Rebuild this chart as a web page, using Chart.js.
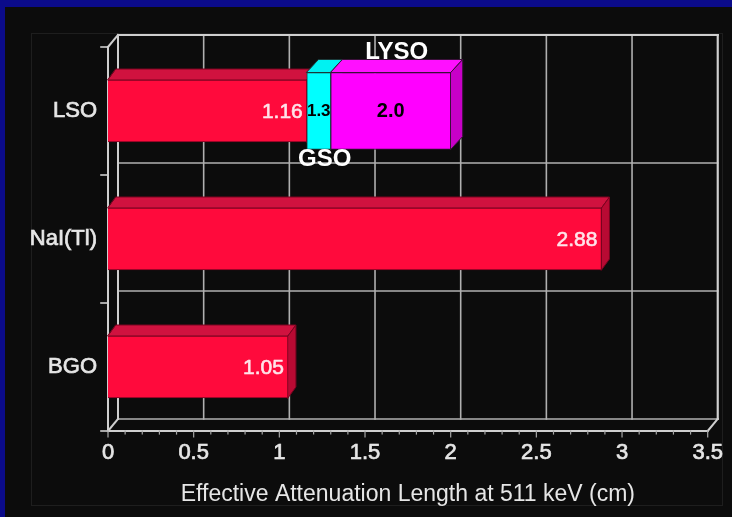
<!DOCTYPE html>
<html>
<head>
<meta charset="utf-8">
<script src="https://cdn.jsdelivr.net/npm/chart.js@4/dist/chart.umd.min.js"></script>
<style>
  html, body { margin: 0; padding: 0; background: #0c0c0c; }
  #wrap { width: 732px; height: 517px; position: relative; }
</style>
</head>
<body>
<div id="wrap"><canvas id="c" width="732" height="517"></canvas></div>
<script>
// Scintillator crystals and their effective attenuation length at 511 keV (cm)
const categories = ['LSO', 'NaI(Tl)', 'BGO'];
const attenuationLengths = [1.16, 2.88, 1.05];
// Extra segments on the LSO row: GSO and LYSO, as [start, end] ranges
const gsoSegment = [1.16, 1.3];
const lysoSegment = [1.3, 2.0];
const segmentNames = ['GSO', 'LYSO'];
const xTicks = [0, 0.5, 1, 1.5, 2, 2.5, 3, 3.5];
const xTitle = 'Effective Attenuation Length at 511 keV (cm)';

const FONT = "'Liberation Sans', Arial, Helvetica, sans-serif";
const WALL = { dx: 10, dy: 12 };            // depth of the back wall
const RED = { front: '#ff0a3c', top: '#d0123f', side: '#b80a33', edge: '#7a0420', depth: { dx: 8, dy: 11 } };
const CYAN = { front: '#00ffff', top: '#00f2f2', side: '#00c8c8', edge: '#1a3a3a', depth: { dx: 12, dy: 13 } };
const MAGENTA = { front: '#ff00ff', top: '#ff10ff', side: '#c800c8', edge: '#3a103a', depth: { dx: 12, dy: 13 } };
const STYLES = [RED, CYAN, MAGENTA];

function poly(ctx, pts, fill, stroke) {
  ctx.beginPath();
  ctx.moveTo(pts[0][0], pts[0][1]);
  for (let i = 1; i < pts.length; i++) ctx.lineTo(pts[i][0], pts[i][1]);
  ctx.closePath();
  ctx.fillStyle = fill;
  ctx.fill();
  if (stroke) { ctx.strokeStyle = stroke; ctx.lineWidth = 1; ctx.stroke(); }
}

function line(ctx, x1, y1, x2, y2) {
  ctx.beginPath();
  ctx.moveTo(x1, y1);
  ctx.lineTo(x2, y2);
  ctx.stroke();
}

// text with a hairline outline in the same colour, for a slightly heavier stroke
function heavyText(ctx, txt, x, y, color, weight) {
  ctx.fillStyle = color;
  ctx.fillText(txt, x, y);
  ctx.strokeStyle = color;
  ctx.lineWidth = weight;
  ctx.strokeText(txt, x, y);
}

function barBox(el) {
  const p = el.getProps(['x', 'y', 'base', 'height'], true);
  return {
    L: Math.min(p.x, p.base), R: Math.max(p.x, p.base),
    T: p.y - p.height / 2, B: p.y + p.height / 2, cy: p.y
  };
}

const frame3d = {
  id: 'frame3d',
  beforeDraw(chart) {
    const ctx = chart.ctx;
    ctx.save();
    ctx.fillStyle = '#0b0b8a';
    ctx.fillRect(0, 0, chart.width, chart.height);
    ctx.fillStyle = '#0c0c0c';
    ctx.fillRect(5, 7, chart.width - 5, chart.height - 7);
    ctx.strokeStyle = '#1e1e1e';
    ctx.lineWidth = 1;
    ctx.strokeRect(31.5, 33.5, 691, 472);
    ctx.restore();
  },
  beforeDatasetsDraw(chart) {
    const ctx = chart.ctx;
    const { left, right, top, bottom } = chart.chartArea;
    const xs = chart.scales.x, ys = chart.scales.y;
    const { dx, dy } = WALL;
    ctx.save();
    ctx.lineCap = 'square';

    // back wall grid: verticals at each tick
    ctx.strokeStyle = '#b0b0b0';
    ctx.lineWidth = 1.6;
    xTicks.forEach(v => {
      const x = xs.getPixelForValue(v) + dx;
      line(ctx, x, top - dy, x, bottom - dy);
    });
    // back wall grid: horizontals at category boundaries
    const bounds = [top];
    for (let i = 1; i < categories.length; i++) {
      bounds.push((ys.getPixelForValue(i - 1) + ys.getPixelForValue(i)) / 2);
    }
    bounds.push(bottom);
    bounds.forEach(y => line(ctx, left + dx, y - dy, right + dx, y - dy));

    // frame edges
    ctx.strokeStyle = '#cfcfcf';
    ctx.lineWidth = 2;
    line(ctx, left, top, left, bottom);                 // front left axis
    line(ctx, left, top, left + dx, top - dy);           // top-left corner
    line(ctx, left, bottom, right, bottom);              // front floor edge
    line(ctx, left, bottom, left + dx, bottom - dy);     // floor left
    line(ctx, right, bottom, right + dx, bottom - dy);   // floor right
    line(ctx, left + dx, top - dy, right + dx, top - dy);
    line(ctx, right + dx, top - dy, right + dx, bottom - dy);
    line(ctx, left + dx, top - dy, left + dx, bottom - dy);

    // category ticks on the left axis
    ctx.lineWidth = 1.6;
    bounds.forEach(y => line(ctx, left - 7, y, left, y));

    // major and minor ticks under the floor
    ctx.strokeStyle = '#a8a8a8';
    ctx.lineWidth = 1.2;
    for (let i = 0; i < xTicks.length; i++) {
      const x = xs.getPixelForValue(xTicks[i]);
      line(ctx, x, bottom, x, bottom + 6);
      if (i < xTicks.length - 1) {
        const step = (xTicks[i + 1] - xTicks[i]) / 5;
        for (let k = 1; k < 5; k++) {
          const xm = xs.getPixelForValue(xTicks[i] + k * step);
          line(ctx, xm, bottom, xm, bottom + 3);
        }
      }
    }

    // top and side faces of every bar, left to right
    chart.data.datasets.forEach((ds, di) => {
      const st = STYLES[di];
      const { dx: bx, dy: by } = st.depth;
      chart.getDatasetMeta(di).data.forEach((el, j) => {
        if (ds.data[j] == null) return;
        const b = barBox(el);
        poly(ctx, [[b.L, b.T], [b.R, b.T], [b.R + bx, b.T - by], [b.L + bx, b.T - by]], st.top, st.edge);
        poly(ctx, [[b.R, b.T], [b.R + bx, b.T - by], [b.R + bx, b.B - by], [b.R, b.B]], st.side, st.edge);
      });
    });
    ctx.restore();
  },
  afterDatasetsDraw(chart) {
    const ctx = chart.ctx;
    ctx.save();
    ctx.textBaseline = 'middle';
    ctx.lineJoin = 'round';

    // values at the end of each red bar
    ctx.font = '21px ' + FONT;
    ctx.textAlign = 'right';
    chart.getDatasetMeta(0).data.forEach((el, j) => {
      const b = barBox(el);
      heavyText(ctx, String(attenuationLengths[j]), b.R - 4, b.cy + 1, '#ffe4ea', 0.6);
    });

    // GSO / LYSO segments: end value inside, name outside
    const ends = [gsoSegment[1], lysoSegment[1]];
    [1, 2].forEach((di, k) => {
      const el = chart.getDatasetMeta(di).data[0];
      const b = barBox(el);
      const cx = (b.L + b.R) / 2;
      ctx.fillStyle = '#000000';
      ctx.textAlign = 'center';
      ctx.font = 'bold ' + (k === 0 ? 17 : 20) + 'px ' + FONT;
      ctx.fillText(ends[k].toFixed(1), cx, b.cy);
      ctx.fillStyle = '#ffffff';
      ctx.font = 'bold 24px ' + FONT;
      if (k === 0) {
        ctx.fillText(segmentNames[k], cx + 6, b.B + 10);
      } else {
        ctx.fillText(segmentNames[k], cx + 6, b.T - STYLES[di].depth.dy - 7);
      }
    });
    ctx.restore();
  }
};

new Chart(document.getElementById('c'), {
  type: 'bar',
  data: {
    labels: categories,
    datasets: [
      { label: 'Attenuation length', data: attenuationLengths, backgroundColor: RED.front,
        borderColor: RED.edge, borderWidth: 1, borderSkipped: 'start', barThickness: 62, grouped: false },
      { label: segmentNames[0], data: [gsoSegment, null, null], backgroundColor: CYAN.front,
        borderColor: CYAN.edge, borderWidth: 1, borderSkipped: false, barThickness: 77, grouped: false },
      { label: segmentNames[1], data: [lysoSegment, null, null], backgroundColor: MAGENTA.front,
        borderColor: MAGENTA.edge, borderWidth: 1, borderSkipped: false, barThickness: 77, grouped: false }
    ]
  },
  options: {
    indexAxis: 'y',
    responsive: false,
    animation: false,
    layout: { padding: { left: 0, top: 47, right: 24, bottom: 0 } },
    plugins: { legend: { display: false }, tooltip: { enabled: false } },
    scales: {
      x: {
        min: 0, max: 3.5,
        afterBuildTicks: s => { s.ticks = xTicks.map(v => ({ value: v })); },
        afterFit: s => { s.height = 86; },
        ticks: { color: '#e6e6e6', font: { family: FONT, size: 22 }, padding: 9, maxRotation: 0,
                 textStrokeColor: '#e6e6e6', textStrokeWidth: 0.7, callback: v => String(v) },
        grid: { display: false, drawTicks: false },
        border: { display: false },
        title: { display: true, text: xTitle, color: '#e6e6e6',
                 font: { family: FONT, size: 23 }, padding: { top: 9, bottom: 9 } }
      },
      y: {
        afterFit: s => { s.width = 108; },
        ticks: { color: '#e6e6e6', font: { family: FONT, size: 22 }, padding: 11,
                 textStrokeColor: '#e6e6e6', textStrokeWidth: 0.7 },
        grid: { display: false, drawTicks: false },
        border: { display: false }
      }
    }
  },
  plugins: [frame3d]
});
</script>
</body>
</html>
